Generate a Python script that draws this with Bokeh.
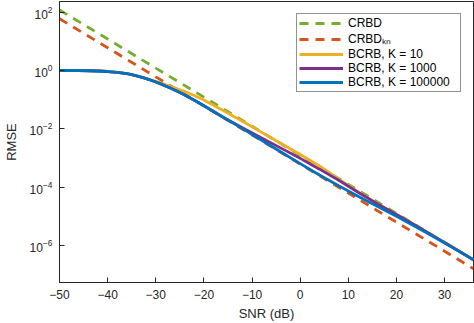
import numpy as np
from bokeh.plotting import figure
from bokeh.models import Range1d, FixedTicker, LogTickFormatter, Legend, LegendItem
from bokeh.embed import file_html
from bokeh.resources import INLINE

# ---- data ----
snr_db = [-50, -48, -46, -44, -42, -40, -38, -36, -35, -34, -33, -32, -31, -30, -29, -28,
          -27, -26, -25, -24, -22, -20, -16, -12, -8, -4, 0, 4, 8, 12, 16, 20, 24, 28, 32, 36]

crbd_snr = [-50, -40, -30, -20, -10, 0, 10, 20, 30, 36]
crbd = [117.5, 11.9, 1.20, 0.122, 0.0123, 1.24e-3, 1.26e-4, 1.27e-5, 1.29e-6, 3.26e-7]
crbd_kn = [58.9, 5.96, 0.603, 0.061, 6.17e-3, 6.24e-4, 6.31e-5, 6.38e-6, 6.46e-7, 1.63e-7]

bcrb_k100000 = [1.0, 0.993, 0.986, 0.977, 0.955, 0.918, 0.861, 0.776, 0.716, 0.653, 0.589,
                0.525, 0.462, 0.403, 0.347, 0.295, 0.251, 0.211, 0.176, 0.145, 0.0955,
                0.0617, 0.0251, 0.0102, 4.07e-3, 1.62e-3, 6.46e-4, 2.63e-4, 1.12e-4,
                4.90e-5, 2.24e-5, 1.02e-5, 4.47e-6, 1.91e-6, 7.94e-7, 3.31e-7]
bcrb_k1000 = [1.0, 0.993, 0.986, 0.977, 0.955, 0.918, 0.861, 0.776, 0.716, 0.653, 0.589,
              0.525, 0.462, 0.403, 0.347, 0.295, 0.251, 0.211, 0.176, 0.145, 0.0955,
              0.0617, 0.0251, 0.0110, 4.90e-3, 2.19e-3, 9.77e-4, 4.17e-4, 1.74e-4,
              6.76e-5, 2.75e-5, 1.17e-5, 4.90e-6, 2.00e-6, 8.13e-7, 3.31e-7]
bcrb_k10 = [1.0, 0.993, 0.986, 0.977, 0.955, 0.918, 0.861, 0.776, 0.716, 0.653, 0.596,
            0.537, 0.479, 0.427, 0.376, 0.331, 0.288, 0.251, 0.219, 0.191, 0.138,
            0.0977, 0.0427, 0.0182, 7.59e-3, 3.16e-3, 1.32e-3, 5.37e-4, 1.91e-4,
            7.08e-5, 2.75e-5, 1.17e-5, 4.90e-6, 2.00e-6, 8.13e-7, 3.31e-7]

x_ticks = [-50, -40, -30, -20, -10, 0, 10, 20, 30]
y_ticks = [1e-6, 1e-4, 1e-2, 1e0, 1e2]

labels = ["CRBD", "CRBD\u2096\u2099", "BCRB, K = 10", "BCRB, K = 1000", "BCRB, K = 100000"]
colors = ["#77AC30", "#D95319", "#EDB120", "#7E2F8E", "#0072BD"]

FONT = "Liberation Sans"
AX = "#262626"

p = figure(width=474, height=323, y_axis_type="log", output_backend="svg",
           toolbar_location=None, x_range=Range1d(-50, 36),
           y_range=Range1d(10 ** -7.26, 10 ** 2.36),
           min_border_left=51, min_border_right=1, min_border_top=1, min_border_bottom=37)
p.grid.visible = False
p.outline_line_color = AX
p.outline_line_width = 1
p.background_fill_color = "white"
p.border_fill_color = "white"

r_g = p.line(crbd_snr, crbd, line_color=colors[0], line_width=2.8, line_dash="9 7")
r_o = p.line(crbd_snr, crbd_kn, line_color=colors[1], line_width=2.8, line_dash="9 7")
r_y = p.line(snr_db, bcrb_k10, line_color=colors[2], line_width=2.8)
r_p = p.line(snr_db, bcrb_k1000, line_color=colors[3], line_width=2.8)
r_b = p.line(snr_db, bcrb_k100000, line_color=colors[4], line_width=2.8)


def style(ax):
    ax.axis_line_color = AX
    ax.major_tick_line_color = AX
    ax.major_tick_in = 5
    ax.major_tick_out = 0
    ax.minor_tick_line_color = None
    ax.major_label_text_font = FONT
    ax.major_label_text_color = AX
    ax.major_label_text_font_size = "12px"
    ax.axis_label_text_font = FONT
    ax.axis_label_text_color = AX
    ax.axis_label_text_font_size = "13px"
    ax.axis_label_text_font_style = "normal"


xa = p.xaxis[0]
xa.ticker = FixedTicker(ticks=x_ticks)
xa.axis_label = "SNR (dB)"
style(xa)
xa.major_label_standoff = 7
xa.axis_label_standoff = 4

ya = p.yaxis[0]
ya.ticker = FixedTicker(ticks=y_ticks)
ya.formatter = LogTickFormatter()
ya.axis_label = "RMSE"
style(ya)
ya.major_label_standoff = 7
ya.axis_label_standoff = 8

items = [LegendItem(label=l, renderers=[r]) for l, r in zip(labels, [r_g, r_o, r_y, r_p, r_b])]
leg = Legend(items=items, location="top_right")
leg.label_text_font = FONT
leg.label_text_font_size = "12px"
leg.label_text_color = "black"
leg.glyph_width = 44
leg.glyph_height = 12
leg.label_height = 12
leg.label_width = 110
leg.label_standoff = 5
leg.spacing = 0
leg.padding = 2
leg.margin = 12
leg.border_line_color = AX
leg.border_line_width = 1
leg.background_fill_color = "white"
leg.background_fill_alpha = 1
p.add_layout(leg)

open("out.html", "w").write(file_html(p, INLINE))
